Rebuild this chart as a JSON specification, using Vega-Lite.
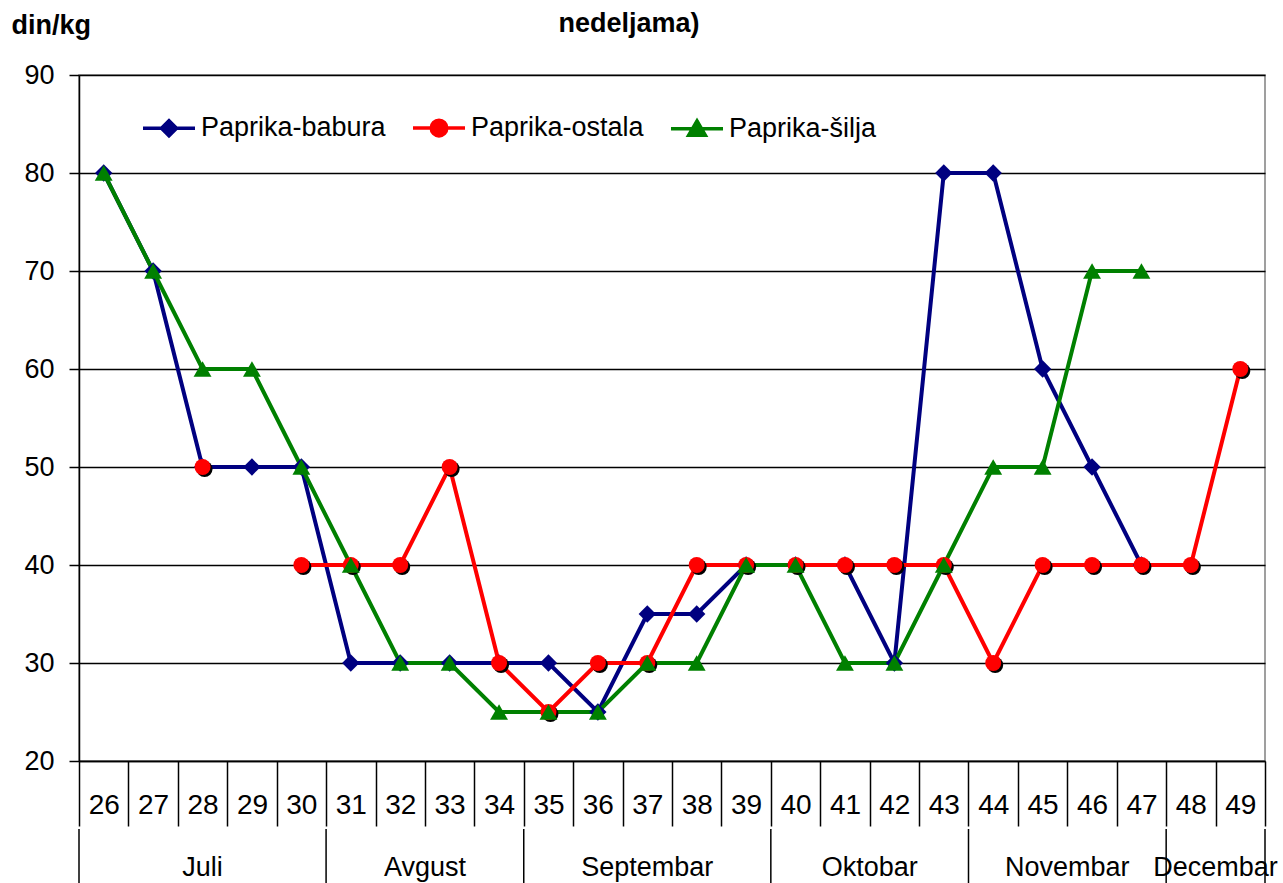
{
  "$schema": "https://vega.github.io/schema/vega-lite/v6.json",
  "padding": {"left": 10, "top": 10, "right": 19, "bottom": 0},
  "background": "white",
  "config": {"font": "Liberation Sans"},
  "title": {"text": "nedeljama)", "fontSize": 27, "fontWeight": "bold", "anchor": "middle", "offset": -28, "dx": -15, "color": "black", "font": "Liberation Sans"},
  "datasets": {
    "prices": [
      {"week": 26, "series": "Paprika-babura", "price": 80},
      {"week": 27, "series": "Paprika-babura", "price": 70},
      {"week": 28, "series": "Paprika-babura", "price": 50},
      {"week": 29, "series": "Paprika-babura", "price": 50},
      {"week": 30, "series": "Paprika-babura", "price": 50},
      {"week": 31, "series": "Paprika-babura", "price": 30},
      {"week": 32, "series": "Paprika-babura", "price": 30},
      {"week": 33, "series": "Paprika-babura", "price": 30},
      {"week": 34, "series": "Paprika-babura", "price": 30},
      {"week": 35, "series": "Paprika-babura", "price": 30},
      {"week": 36, "series": "Paprika-babura", "price": 25},
      {"week": 37, "series": "Paprika-babura", "price": 35},
      {"week": 38, "series": "Paprika-babura", "price": 35},
      {"week": 39, "series": "Paprika-babura", "price": 40},
      {"week": 40, "series": "Paprika-babura", "price": 40},
      {"week": 41, "series": "Paprika-babura", "price": 40},
      {"week": 42, "series": "Paprika-babura", "price": 30},
      {"week": 43, "series": "Paprika-babura", "price": 80},
      {"week": 44, "series": "Paprika-babura", "price": 80},
      {"week": 45, "series": "Paprika-babura", "price": 60},
      {"week": 46, "series": "Paprika-babura", "price": 50},
      {"week": 47, "series": "Paprika-babura", "price": 40},
      {"week": 28, "series": "Paprika-ostala", "price": 50},
      {"week": 29, "series": "Paprika-ostala", "price": null},
      {"week": 30, "series": "Paprika-ostala", "price": 40},
      {"week": 31, "series": "Paprika-ostala", "price": 40},
      {"week": 32, "series": "Paprika-ostala", "price": 40},
      {"week": 33, "series": "Paprika-ostala", "price": 50},
      {"week": 34, "series": "Paprika-ostala", "price": 30},
      {"week": 35, "series": "Paprika-ostala", "price": 25},
      {"week": 36, "series": "Paprika-ostala", "price": 30},
      {"week": 37, "series": "Paprika-ostala", "price": 30},
      {"week": 38, "series": "Paprika-ostala", "price": 40},
      {"week": 39, "series": "Paprika-ostala", "price": 40},
      {"week": 40, "series": "Paprika-ostala", "price": 40},
      {"week": 41, "series": "Paprika-ostala", "price": 40},
      {"week": 42, "series": "Paprika-ostala", "price": 40},
      {"week": 43, "series": "Paprika-ostala", "price": 40},
      {"week": 44, "series": "Paprika-ostala", "price": 30},
      {"week": 45, "series": "Paprika-ostala", "price": 40},
      {"week": 46, "series": "Paprika-ostala", "price": 40},
      {"week": 47, "series": "Paprika-ostala", "price": 40},
      {"week": 48, "series": "Paprika-ostala", "price": 40},
      {"week": 49, "series": "Paprika-ostala", "price": 60},
      {"week": 26, "series": "Paprika-šilja", "price": 80},
      {"week": 27, "series": "Paprika-šilja", "price": 70},
      {"week": 28, "series": "Paprika-šilja", "price": 60},
      {"week": 29, "series": "Paprika-šilja", "price": 60},
      {"week": 30, "series": "Paprika-šilja", "price": 50},
      {"week": 31, "series": "Paprika-šilja", "price": 40},
      {"week": 32, "series": "Paprika-šilja", "price": 30},
      {"week": 33, "series": "Paprika-šilja", "price": 30},
      {"week": 34, "series": "Paprika-šilja", "price": 25},
      {"week": 35, "series": "Paprika-šilja", "price": 25},
      {"week": 36, "series": "Paprika-šilja", "price": 25},
      {"week": 37, "series": "Paprika-šilja", "price": 30},
      {"week": 38, "series": "Paprika-šilja", "price": 30},
      {"week": 39, "series": "Paprika-šilja", "price": 40},
      {"week": 40, "series": "Paprika-šilja", "price": 40},
      {"week": 41, "series": "Paprika-šilja", "price": 30},
      {"week": 42, "series": "Paprika-šilja", "price": 30},
      {"week": 43, "series": "Paprika-šilja", "price": 40},
      {"week": 44, "series": "Paprika-šilja", "price": 50},
      {"week": 45, "series": "Paprika-šilja", "price": 50},
      {"week": 46, "series": "Paprika-šilja", "price": 70},
      {"week": 47, "series": "Paprika-šilja", "price": 70}
    ],
    "edges": [
      {"edge": 25.5}, {"edge": 30.5}, {"edge": 34.5}, {"edge": 39.5}, {"edge": 43.5}, {"edge": 47.5}, {"edge": 49.5}
    ],
    "months": [
      {"month": "Juli", "mid": 28},
      {"month": "Avgust", "mid": 32.5},
      {"month": "Septembar", "mid": 37},
      {"month": "Oktobar", "mid": 41.5},
      {"month": "Novembar", "mid": 45.5},
      {"month": "Decembar", "mid": 48.5}
    ]
  },
  "spacing": 0,
  "resolve": {"scale": {"x": "independent"}},
  "vconcat": [
    {
      "width": 1186,
      "height": 686,
      "view": {"stroke": "#808080", "strokeWidth": 1.5},
      "data": {"name": "prices"},
      "encoding": {
        "x": {
          "field": "week", "type": "ordinal",
          "scale": {"type": "band", "paddingInner": 0, "paddingOuter": 0},
          "axis": {"title": null, "labelAngle": 0, "tickBand": "extent", "tickSize": 65, "tickColor": "black", "tickWidth": 1.5, "domainColor": "black", "domainWidth": 1.5, "labelFontSize": 28, "labelColor": "black", "labelPadding": -21, "labelBaseline": "middle", "grid": false, "labelFont": "Liberation Sans"}
        },
        "y": {
          "field": "price", "type": "quantitative",
          "scale": {"domain": [20, 90], "nice": false, "zero": false},
          "axis": {"values": [20, 30, 40, 50, 60, 70, 80, 90], "title": "din/kg", "titleAngle": 0, "titleX": -68, "titleY": -50, "titleAlign": "left", "titleBaseline": "middle", "titleFontSize": 27, "titleFontWeight": "bold", "titleColor": "black", "titleFont": "Liberation Sans", "labelFontSize": 27, "labelColor": "black", "labelPadding": 15, "tickSize": 10, "tickColor": "black", "tickWidth": 1.5, "domainColor": "black", "domainWidth": 1.5, "grid": true, "gridColor": "black", "gridWidth": 1.3, "gridOpacity": 1, "labelFont": "Liberation Sans"}
        },
        "color": {
          "field": "series", "type": "nominal",
          "scale": {"domain": ["Paprika-babura", "Paprika-ostala", "Paprika-šilja"], "range": ["#000080", "#ff0000", "#008000"]},
          "legend": {
            "title": null, "orient": "none", "legendX": 62, "legendY": 25, "direction": "horizontal",
            "labelFontSize": 27, "labelFont": "Liberation Sans", "labelColor": "black", "labelLimit": 400,
            "symbolSize": 2704, "symbolStrokeWidth": 3.5, "labelOffset": 4, "columnPadding": 20, "padding": 0,
            "encode": {"symbols": {"update": {
              "shape": {"signal": "datum.value === 'Paprika-babura' ? 'M-1,0H1M0,-0.29L0.29,0L0,0.29L-0.29,0Z' : datum.value === 'Paprika-ostala' ? 'M-1,0H1M-0.3,0A0.3,0.3,0,1,0,0.3,0A0.3,0.3,0,1,0,-0.3,0Z' : 'M-1,0H1M0,-0.3L0.32,0.25L-0.32,0.25Z'"},
              "fill": {"signal": "scale('color', datum.value)"},
              "stroke": {"signal": "scale('color', datum.value)"},
              "strokeWidth": {"value": 3.5},
              "opacity": {"value": 1}
            }}}
          }
        }
      },
      "layer": [
        {
          "mark": {"type": "line", "strokeWidth": 4}
        },
        {
          "transform": [{"filter": "datum.series === 'Paprika-babura' && isValid(datum.price)"}],
          "mark": {"type": "point", "filled": true, "shape": "diamond", "size": 300, "opacity": 1}
        },
        {
          "transform": [{"filter": "datum.series === 'Paprika-ostala' && isValid(datum.price)"}],
          "mark": {"type": "point", "filled": true, "shape": "circle", "size": 256, "color": "black", "opacity": 1, "xOffset": 2, "yOffset": 2},
          "encoding": {"color": {"value": "black"}}
        },
        {
          "transform": [{"filter": "datum.series === 'Paprika-ostala' && isValid(datum.price)"}],
          "mark": {"type": "point", "filled": true, "shape": "circle", "size": 256, "opacity": 1}
        },
        {
          "transform": [{"filter": "datum.series === 'Paprika-šilja' && isValid(datum.price)"}],
          "mark": {"type": "point", "filled": true, "shape": "triangle-up", "size": 320, "opacity": 1}
        }
      ]
    },
    {
      "width": 1186,
      "height": 78,
      "view": {"stroke": null},
      "layer": [
        {
          "data": {"name": "edges"},
          "mark": {"type": "rule", "color": "black", "strokeWidth": 1.5},
          "encoding": {"x": {"field": "edge", "type": "quantitative", "scale": {"domain": [25.5, 49.5], "nice": false, "zero": false}, "axis": null}}
        },
        {
          "data": {"name": "months"},
          "mark": {"type": "text", "fontSize": 27, "color": "black", "baseline": "middle", "font": "Liberation Sans"},
          "encoding": {
            "x": {"field": "mid", "type": "quantitative", "axis": null},
            "text": {"field": "month", "type": "nominal"}
          }
        }
      ]
    }
  ]
}
